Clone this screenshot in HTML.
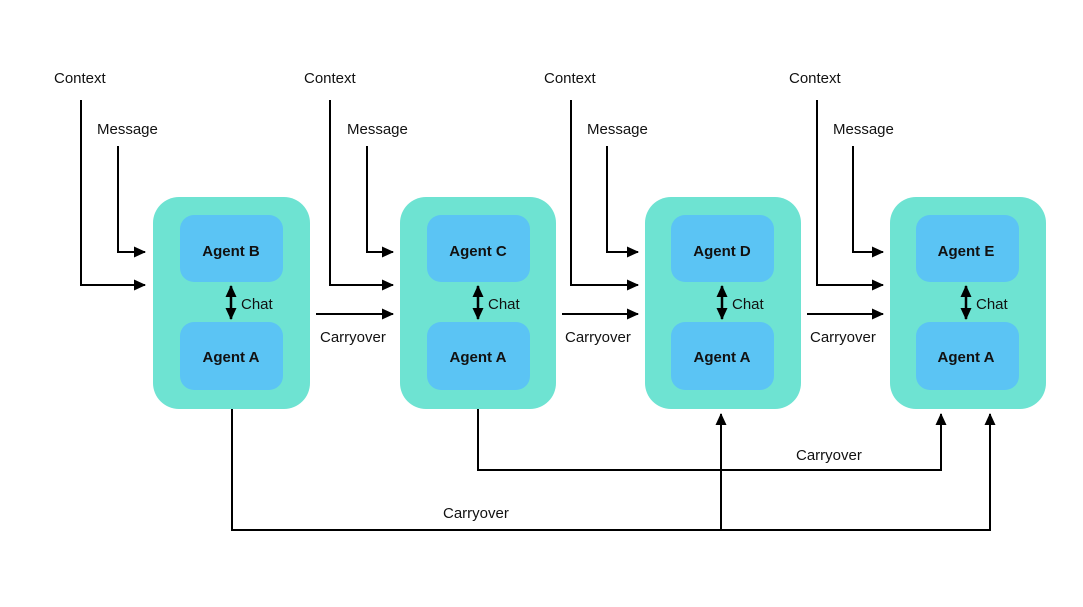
<!DOCTYPE html>
<html><head><style>
body{margin:0;background:#fff;}
svg{display:block;font-family:"Liberation Sans",Arial,sans-serif;}
</style></head><body>
<svg width="1083" height="607" viewBox="0 0 1083 607">
<defs>
<marker id="a" markerWidth="12" markerHeight="12" refX="11" refY="6" orient="auto" markerUnits="userSpaceOnUse">
<path d="M0,0.5 L12,6 L0,11.5 z" fill="#000"/></marker>
<marker id="b" markerWidth="12" markerHeight="12" refX="11" refY="6" orient="auto-start-reverse" markerUnits="userSpaceOnUse">
<path d="M0,0.5 L12,6 L0,11.5 z" fill="#000"/></marker>
</defs>
<g fill="none" stroke="#000" stroke-width="2">
<path d="M81,100 V285 H145" marker-end="url(#a)"/>
<path d="M118,146 V252 H145" marker-end="url(#a)"/>
<path d="M330,100 V285 H393" marker-end="url(#a)"/>
<path d="M367,146 V252 H393" marker-end="url(#a)"/>
<path d="M571,100 V285 H638" marker-end="url(#a)"/>
<path d="M607,146 V252 H638" marker-end="url(#a)"/>
<path d="M817,100 V285 H883" marker-end="url(#a)"/>
<path d="M853,146 V252 H883" marker-end="url(#a)"/>
<path d="M316,314 H393" marker-end="url(#a)"/>
<path d="M562,314 H638" marker-end="url(#a)"/>
<path d="M807,314 H883" marker-end="url(#a)"/>
<path d="M232,409 V530 H990 V414" marker-end="url(#a)"/>
<path d="M721,530 V414" marker-end="url(#a)"/>
<path d="M478,409 V470 H941 V414" marker-end="url(#a)"/>
</g>
<g>
<rect x="153" y="197" width="157" height="212" rx="26" fill="#6ee3d2"/>
<rect x="400" y="197" width="156" height="212" rx="26" fill="#6ee3d2"/>
<rect x="645" y="197" width="156" height="212" rx="26" fill="#6ee3d2"/>
<rect x="890" y="197" width="156" height="212" rx="26" fill="#6ee3d2"/>
<g fill="#5bc4f4">
<rect x="180" y="215" width="103" height="67" rx="14"/><rect x="180" y="322" width="103" height="68" rx="14"/>
<rect x="427" y="215" width="103" height="67" rx="14"/><rect x="427" y="322" width="103" height="68" rx="14"/>
<rect x="671" y="215" width="103" height="67" rx="14"/><rect x="671" y="322" width="103" height="68" rx="14"/>
<rect x="916" y="215" width="103" height="67" rx="14"/><rect x="916" y="322" width="103" height="68" rx="14"/>
</g>
</g>
<g stroke="#000" stroke-width="2.5">
<path d="M231,286 V319" marker-start="url(#b)" marker-end="url(#b)"/>
<path d="M478,286 V319" marker-start="url(#b)" marker-end="url(#b)"/>
<path d="M722,286 V319" marker-start="url(#b)" marker-end="url(#b)"/>
<path d="M966,286 V319" marker-start="url(#b)" marker-end="url(#b)"/>
</g>
<g font-size="15" font-weight="bold" text-anchor="middle" fill="#111">
<text x="231" y="256">Agent B</text><text x="231" y="362">Agent A</text>
<text x="478" y="256">Agent C</text><text x="478" y="362">Agent A</text>
<text x="722" y="256">Agent D</text><text x="722" y="362">Agent A</text>
<text x="966" y="256">Agent E</text><text x="966" y="362">Agent A</text>
</g>
<g font-size="15" fill="#111">
<text x="241" y="309">Chat</text><text x="488" y="309">Chat</text>
<text x="732" y="309">Chat</text><text x="976" y="309">Chat</text>
<text x="54" y="83">Context</text><text x="97" y="134">Message</text>
<text x="304" y="83">Context</text><text x="347" y="134">Message</text>
<text x="544" y="83">Context</text><text x="587" y="134">Message</text>
<text x="789" y="83">Context</text><text x="833" y="134">Message</text>
<text x="320" y="342">Carryover</text><text x="565" y="342">Carryover</text><text x="810" y="342">Carryover</text>
<text x="796" y="460">Carryover</text><text x="443" y="518">Carryover</text>
</g>
</svg>
</body></html>
